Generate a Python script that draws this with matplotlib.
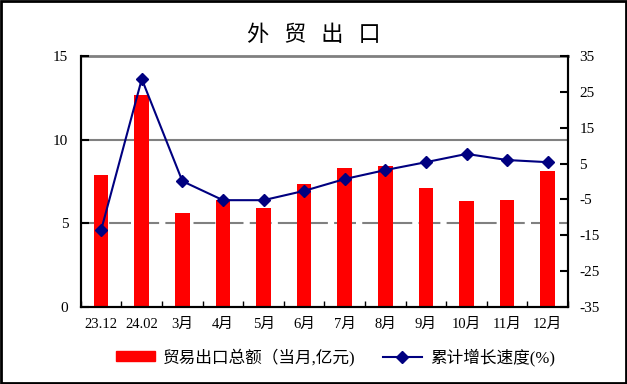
import numpy as np
import matplotlib
matplotlib.use('Agg')
import matplotlib.pyplot as plt
from matplotlib.lines import Line2D
from matplotlib.patches import Patch

plt.rcParams['font.family'] = ['Liberation Serif', 'Noto Sans CJK SC']
plt.rcParams['axes.unicode_minus'] = False

months = ['23.12', '24.02', '3月', '4月', '5月', '6月', '7月', '8月',
          '9月', '10月', '11月', '12月']
exports = [7.9, 12.7, 5.6, 6.4, 5.9, 7.35, 8.3, 8.45, 7.1, 6.35, 6.4, 8.15]
growth = [-13.5, 28.6, 0.1, -5.2, -5.2, -2.6, 0.7, 3.2, 5.4, 7.7, 6.0, 5.4]

fig = plt.figure(figsize=(6.27, 3.84), dpi=100)
fig.patches.append(plt.Rectangle((0.002, 0.003), 0.996, 0.994, transform=fig.transFigure,
                                 fill=False, edgecolor='black', linewidth=2))
ax = fig.add_axes([0.129, 0.2005, 0.777, 0.6535])
x = np.arange(len(months))

ax.axhline(10, color='#808080', lw=1.5, zorder=0)
ax.axhline(15, color='#808080', lw=2, zorder=0, clip_on=False)
ax.axhline(5, color='#808080', lw=1.5, ls=(0, (10.5, 3)), zorder=0)
ax.bar(x, exports, width=0.36, color='#ff0000', zorder=2)
ax.set_xlim(-0.5, len(months) - 0.5)
ax.set_ylim(0, 15)
ax.set_yticks([0, 5, 10, 15])
ax.set_xticks(x)
ax.set_xticklabels(months, fontsize=10.5)
ax.set_xticks(np.arange(-0.5, len(months), 1), minor=True)
ax.tick_params(axis='x', which='major', length=0, pad=8)
ax.tick_params(axis='x', which='minor', direction='in', length=4, width=1)
ax.tick_params(axis='y', direction='in', length=6, width=1.5, labelsize=11, pad=9)
ax.spines['top'].set_visible(False)
for s in ['left', 'bottom', 'right']:
    ax.spines[s].set_linewidth(1.5)

ax2 = ax.twinx()
ax2.plot(x, growth, color='#000080', lw=1.5, marker='D', markersize=6, zorder=3)
ax2.set_ylim(-35, 35)
ax2.set_yticks(np.arange(-35, 36, 10))
ax2.tick_params(axis='y', direction='in', length=6, width=1.5, labelsize=11, pad=8)
ax2.spines['top'].set_visible(False)
for s in ['left', 'bottom', 'right']:
    ax2.spines[s].set_linewidth(1.5)

fig.text(0.5, 0.91, '外\u2002\u2006贸\u2002\u2006出\u2002\u2006口', ha='center', va='center',
         fontsize=16, family=['Noto Sans CJK SC', 'DejaVu Sans'])

handles = [Patch(color='#ff0000'),
           Line2D([], [], color='#000080', lw=1.5, marker='D', markersize=6)]
fig.legend(handles, ['贸易出口总额（当月,亿元)', '累计增长速度(%)'],
           loc='center', bbox_to_anchor=(0.535, 0.07), ncol=2, frameon=False,
           fontsize=12, handlelength=2.35, handleheight=0.55, columnspacing=1.6,
           handletextpad=0.5)

fig.savefig('out.png')
